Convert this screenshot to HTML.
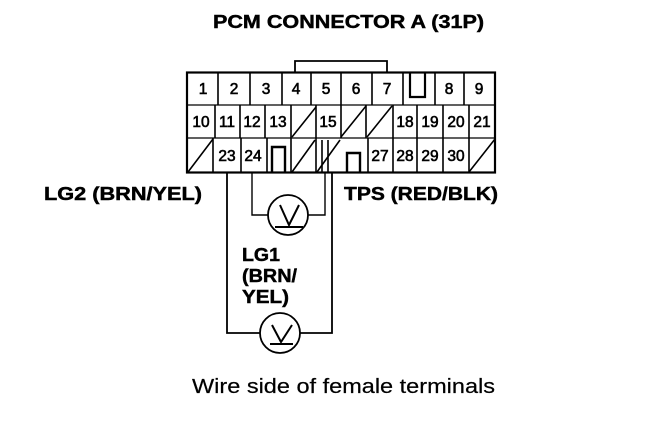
<!DOCTYPE html>
<html><head><meta charset="utf-8"><style>
html,body{margin:0;padding:0;background:#fff}
svg{display:block}
text{font-family:"Liberation Sans",sans-serif;fill:#000}
.n{font-size:15.500px;text-anchor:middle;font-weight:400;stroke:#000;stroke-width:.6px}
.b{font-weight:700;font-size:18px;stroke:#000;stroke-width:.45px}
</style></head><body>
<svg width="672" height="428" viewBox="0 0 672 428" xmlns="http://www.w3.org/2000/svg">
<rect width="672" height="428" fill="#fff"/>
<g fill="none" stroke="#000" stroke-width="1.6">
<path d="M295 72V61H387V72" stroke-width="1.8"/>
<rect x="187" y="72.500" width="308" height="100" stroke-width="2.200"/>
<path d="M187 105H495M187 138H495" stroke-width="1.3"/>
<path d="M218 72V105M250 72V105M282 72V105M311 72V105M341 72V105M372 72V105M403 72V105M435 72V105M464 72V105"/>
<path d="M410 72V97H425V72" stroke-width="2.200"/>
<path d="M215 105V138M240 105V138M265 105V138M291 105V138M316 105V138M341 105V138M366 105V138M393 105V138M417 105V138M443 105V138M469 105V138"/>
<path d="M213 138V173M241 138V173M267 138V173M291 138V173M316 138V173M368 138V173M393 138V173M417 138V173M443 138V173M469 138V173"/>
<path d="M272 173V147H285V173" stroke-width="2.400"/>
<path d="M347 173V153H360V173" stroke-width="2.400"/>
<path d="M292 137L316 107M341 137L366 106M367 137L392 106M188 172L213 139M292 172L315 140M317 172L340 140M469 172L495 139"/>
<path d="M322 140V173M328 140V173"/>
<path d="M227 173V333H260M300 333H332V173" stroke-width="1.800"/>
<path d="M252 173V215H268M308 215H325V173" stroke-width="1.400"/>
<circle cx="288" cy="215" r="20" stroke-width="1.800"/>
<circle cx="280" cy="333" r="20" stroke-width="1.800"/>
<path d="M280 205L289 225L299 205M275 227H303" stroke-width="2"/>
<path d="M272 325L281 342L292 325M270 344H293" stroke-width="2"/>
</g>
<g class="n">
<text class="n" x="203" y="94">1</text><text class="n" x="234" y="94">2</text><text class="n" x="266" y="94">3</text><text class="n" x="296" y="94">4</text><text class="n" x="326" y="94">5</text><text class="n" x="356" y="94">6</text><text class="n" x="387" y="94">7</text><text class="n" x="449" y="94">8</text><text class="n" x="479" y="94">9</text>
<text class="n" x="201" y="127">10</text><text class="n" x="227" y="127">11</text><text class="n" x="252" y="127">12</text><text class="n" x="278" y="127">13</text><text class="n" x="328" y="127">15</text><text class="n" x="405" y="127">18</text><text class="n" x="430" y="127">19</text><text class="n" x="456" y="127">20</text><text class="n" x="482" y="127">21</text>
<text class="n" x="227" y="161">23</text><text class="n" x="253" y="161">24</text><text class="n" x="380" y="161">27</text><text class="n" x="405" y="161">28</text><text class="n" x="430" y="161">29</text><text class="n" x="456" y="161">30</text>
</g>
<text class="b" x="213" y="28" textLength="271" lengthAdjust="spacingAndGlyphs">PCM CONNECTOR A (31P)</text>
<text class="b" x="44" y="200" textLength="158" lengthAdjust="spacingAndGlyphs">LG2 (BRN/YEL)</text>
<text class="b" x="344" y="200" textLength="154" lengthAdjust="spacingAndGlyphs">TPS (RED/BLK)</text>
<text class="b" x="242" y="261" textLength="38" lengthAdjust="spacingAndGlyphs">LG1</text>
<text class="b" x="242" y="282" textLength="55" lengthAdjust="spacingAndGlyphs">(BRN/</text>
<text class="b" x="242" y="303" textLength="47" lengthAdjust="spacingAndGlyphs">YEL)</text>
<text x="192" y="393" font-size="20" stroke="#000" stroke-width=".2" textLength="303" lengthAdjust="spacingAndGlyphs">Wire side of female terminals</text>
</svg>
</body></html>
